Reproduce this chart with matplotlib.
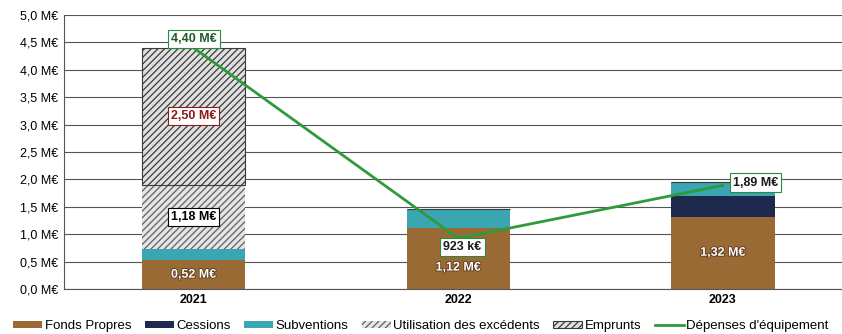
import numpy as np
import matplotlib.pyplot as plt
import matplotlib.patheffects as pe

plt.rcParams['font.family'] = ['Liberation Sans', 'DejaVu Sans']
plt.rcParams['hatch.linewidth'] = 0.9

annees = ['2021', '2022', '2023']
fonds_propres = [0.52, 1.12, 1.32]
cessions = [0.0, 0.0, 0.38]
subventions = [0.20, 0.33, 0.25]
excedents = [1.18, 0.0, 0.0]
emprunts = [2.50, 0.0, 0.0]
depenses = [4.40, 0.923, 1.89]
depenses_labels = ['4,40 M€', '923 k€', '1,89 M€']
yticks = [0, 0.5, 1.0, 1.5, 2.0, 2.5, 3.0, 3.5, 4.0, 4.5, 5.0]

fig = plt.figure(figsize=(8.42, 3.34), dpi=100)
ax = fig.add_axes([0.076, 0.135, 0.924, 0.82])

x = np.arange(len(annees))
w = 0.39
bottom = np.zeros(len(annees))

ax.bar(x, fonds_propres, w, bottom=bottom, color='#9a6a35', label='Fonds Propres', zorder=2)
bottom += fonds_propres
ax.bar(x, cessions, w, bottom=bottom, color='#1d2a4e', label='Cessions', zorder=2)
bottom += cessions
ax.bar(x, subventions, w, bottom=bottom, color='#3aa6b2', label='Subventions', zorder=2)
bottom += subventions
ax.bar(x, excedents, w, bottom=bottom, facecolor='#e4e4e4', edgecolor='#606060',
       hatch='/////', linewidth=0, label='Utilisation des excédents', zorder=2)
exc_bottom = bottom.copy()
bottom += excedents
ax.bar(x, emprunts, w, bottom=bottom, facecolor='#e0e0e0', edgecolor='#3a3a3a',
       hatch='/////', linewidth=0.8, label='Emprunts', zorder=2)
emp_bottom = bottom.copy()

ax.plot(x, depenses, color='#2e9a3a', lw=2, label="Dépenses d'équipement", zorder=4)

def fmt(v):
    return f'{v:.2f} M€'.replace('.', ',')

white = [pe.withStroke(linewidth=1.2, foreground='#5a3a20')]

# values inside the bars
ax.text(0, fonds_propres[0] / 2, fmt(fonds_propres[0]), ha='center', va='center',
        color='white', fontsize=9, fontweight='bold', path_effects=white, zorder=5)
ax.text(1, 0.39, fmt(fonds_propres[1]), ha='center', va='center',
        color='white', fontsize=9, fontweight='bold', path_effects=white, zorder=5)
ax.text(2, fonds_propres[2] / 2, fmt(fonds_propres[2]), ha='center', va='center',
        color='white', fontsize=9, fontweight='bold', path_effects=white, zorder=5)
ax.text(0, exc_bottom[0] + excedents[0] / 2, fmt(excedents[0]), ha='center', va='center',
        color='black', fontsize=9, fontweight='bold', zorder=5,
        bbox=dict(boxstyle='square,pad=0.25', fc='white', ec='black', lw=0.8))
ax.text(0, emp_bottom[0] + emprunts[0] / 2, fmt(emprunts[0]), ha='center', va='center',
        color='#8b1a1a', fontsize=9, fontweight='bold', zorder=5,
        bbox=dict(boxstyle='square,pad=0.25', fc='white', ec='#8b1a1a', lw=0.8))

# labels of the equipment spending line
box = dict(boxstyle='square,pad=0.25', fc='white', ec='#2e8a3a', lw=0.8)
ax.annotate(depenses_labels[0], (0, depenses[0]), xytext=(0, 2), textcoords='offset points',
            ha='center', va='bottom', fontsize=9, fontweight='bold', color='#1f5a2a',
            bbox=box, zorder=6)
ax.annotate(depenses_labels[1], (1, depenses[1]), xytext=(3, -2), textcoords='offset points',
            ha='center', va='top', fontsize=9, fontweight='bold', color='#1a1a1a',
            bbox=box, zorder=6)
ax.annotate(depenses_labels[2], (2, depenses[2]), xytext=(7, 2), textcoords='offset points',
            ha='left', va='center', fontsize=9, fontweight='bold', color='#1a1a1a',
            bbox=box, zorder=6)

ax.set_xlim(-0.49, 2.45)
ax.set_ylim(0, 5.0)
ax.set_yticks(yticks)
ax.set_yticklabels([f'{v:.1f} M€'.replace('.', ',') for v in yticks], fontsize=9)
ax.set_xticks(x)
ax.set_xticklabels(annees, fontsize=9, fontweight='bold')
ax.tick_params(length=0, pad=4)
ax.yaxis.grid(True, color='#555555', lw=0.8, zorder=0)
ax.set_axisbelow(True)
for s in ['top', 'right']:
    ax.spines[s].set_visible(False)
ax.spines['left'].set_color('#555555')
ax.spines['bottom'].set_color('#555555')

handles, labels = ax.get_legend_handles_labels()
order = [1, 2, 3, 4, 5, 0]
fig.legend([handles[i] for i in order], [labels[i] for i in order],
           loc='lower center', bbox_to_anchor=(0.5, -0.03), ncol=6, frameon=False,
           fontsize=9.5, handlelength=2.2, handleheight=0.5, handletextpad=0.2,
           columnspacing=1.0)

fig.savefig('out.png', dpi=100)
